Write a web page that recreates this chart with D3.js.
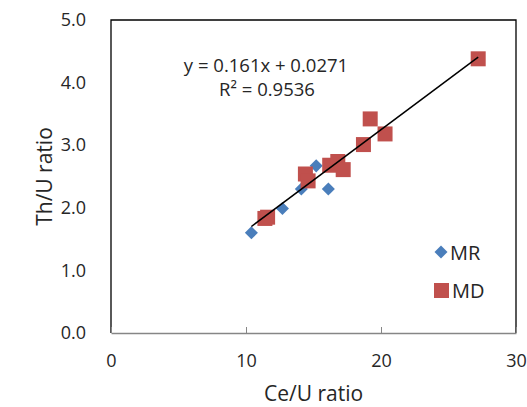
<!DOCTYPE html>
<html>
<head>
<meta charset="utf-8">
<script src="https://d3js.org/d3.v7.min.js"></script>
<style>
  body { margin: 0; background: #fff; }
  svg text { font-family: "Open Sans", "Noto Sans", sans-serif; fill: #262626; }
</style>
</head>
<body>
<div id="chart"></div>
<script>
// Ce/U vs Th/U values
const mrCeU = [10.4, 12.7, 14.1, 15.2, 16.1];
const mrThU = [1.60, 1.99, 2.30, 2.67, 2.30];
const mdCeU = [11.4, 11.6, 14.4, 14.6, 16.2, 16.8, 17.2, 18.7, 19.2, 20.3, 27.2];
const mdThU = [1.83, 1.85, 2.54, 2.43, 2.68, 2.74, 2.61, 3.01, 3.42, 3.18, 4.38];
const xTicks = [0, 10, 20, 30];
const yTicks = [0, 1, 2, 3, 4, 5];
const slope = 0.161, intercept = 0.0271;
const eqText = "y = 0.161x + 0.0271";
const r2Text = "R² = 0.9536";

const width = 527, height = 407;
const margin = {top: 20, right: 11, bottom: 74, left: 111};

const svg = d3.select("#chart").append("svg")
    .attr("width", width)
    .attr("height", height);

const x = d3.scaleLinear().domain([0, 30]).range([margin.left, width - margin.right]);
const y = d3.scaleLinear().domain([0, 5]).range([height - margin.bottom, margin.top]);

const mr = mrCeU.map((v, i) => ({x: v, y: mrThU[i]}));
const md = mdCeU.map((v, i) => ({x: v, y: mdThU[i]}));

// plot frame (left, top, right black)
svg.append("path")
    .attr("d", `M${x(0)},${y(0)}V${y(5)}H${x(30)}V${y(0)}`)
    .attr("fill", "none")
    .attr("stroke", "#000")
    .attr("stroke-width", 1.3);

// x axis with ticks pointing inward
const xAxis = svg.append("g")
    .attr("transform", `translate(0,${y(0)})`)
    .call(d3.axisBottom(x).tickValues(xTicks).tickSizeInner(-6).tickSizeOuter(0).tickPadding(21).tickFormat(d3.format("d")));
xAxis.select(".domain").attr("stroke", "#868686").attr("stroke-width", 1.3);
xAxis.selectAll(".tick line").attr("stroke", "#868686");
xAxis.selectAll("text").attr("font-size", 18).attr("font-family", null).attr("fill", "#262626");

// y axis labels only
const yAxis = svg.append("g")
    .attr("transform", `translate(${x(0)},0)`)
    .call(d3.axisLeft(y).tickValues(yTicks).tickSize(0).tickPadding(25).tickFormat(d3.format(".1f")));
yAxis.select(".domain").remove();
yAxis.selectAll("text").attr("font-size", 18).attr("font-family", null).attr("fill", "#262626");

// axis titles
svg.append("text")
    .attr("x", (x(0) + x(30)) / 2)
    .attr("y", 401)
    .attr("text-anchor", "middle")
    .attr("font-size", 21)
    .text("Ce/U ratio");

svg.append("text")
    .attr("transform", `translate(52,${(y(0) + y(5)) / 2}) rotate(-90)`)
    .attr("text-anchor", "middle")
    .attr("font-size", 21)
    .text("Th/U ratio");

// MR diamonds
svg.selectAll(".mr")
    .data(mr)
    .join("path")
    .attr("class", "mr")
    .attr("d", d3.symbol().type(d3.symbolSquare).size(85))
    .attr("transform", d => `translate(${x(d.x)},${y(d.y)}) rotate(45)`)
    .attr("fill", "#4a7ebb");

// MD squares
svg.selectAll(".md")
    .data(md)
    .join("path")
    .attr("class", "md")
    .attr("d", d3.symbol().type(d3.symbolSquare).size(225))
    .attr("transform", d => `translate(${x(d.x)},${y(d.y)})`)
    .attr("fill", "#c0504d");

// linear trendline over all points
const allX = mrCeU.concat(mdCeU);
const [x0, x1] = d3.extent(allX);
svg.append("line")
    .attr("x1", x(x0)).attr("y1", y(slope * x0 + intercept))
    .attr("x2", x(x1)).attr("y2", y(slope * x1 + intercept))
    .attr("stroke", "#000")
    .attr("stroke-width", 1.5);

// equation
svg.append("text")
    .attr("x", 266).attr("y", 72)
    .attr("text-anchor", "middle")
    .attr("font-size", 18.5)
    .text(eqText);
svg.append("text")
    .attr("x", 267).attr("y", 96)
    .attr("text-anchor", "middle")
    .attr("font-size", 18.5)
    .text(r2Text);

// legend
const legend = svg.append("g").attr("transform", "translate(441,0)");
legend.append("path")
    .attr("d", d3.symbol().type(d3.symbolSquare).size(85))
    .attr("transform", "translate(0,252) rotate(45)")
    .attr("fill", "#4a7ebb");
legend.append("text").attr("x", 9).attr("y", 260).attr("font-size", 20).text("MR");
legend.append("rect")
    .attr("x", -7).attr("y", 283).attr("width", 15).attr("height", 15)
    .attr("fill", "#c0504d");
legend.append("text").attr("x", 11).attr("y", 298).attr("font-size", 20).text("MD");
</script>
</body>
</html>
